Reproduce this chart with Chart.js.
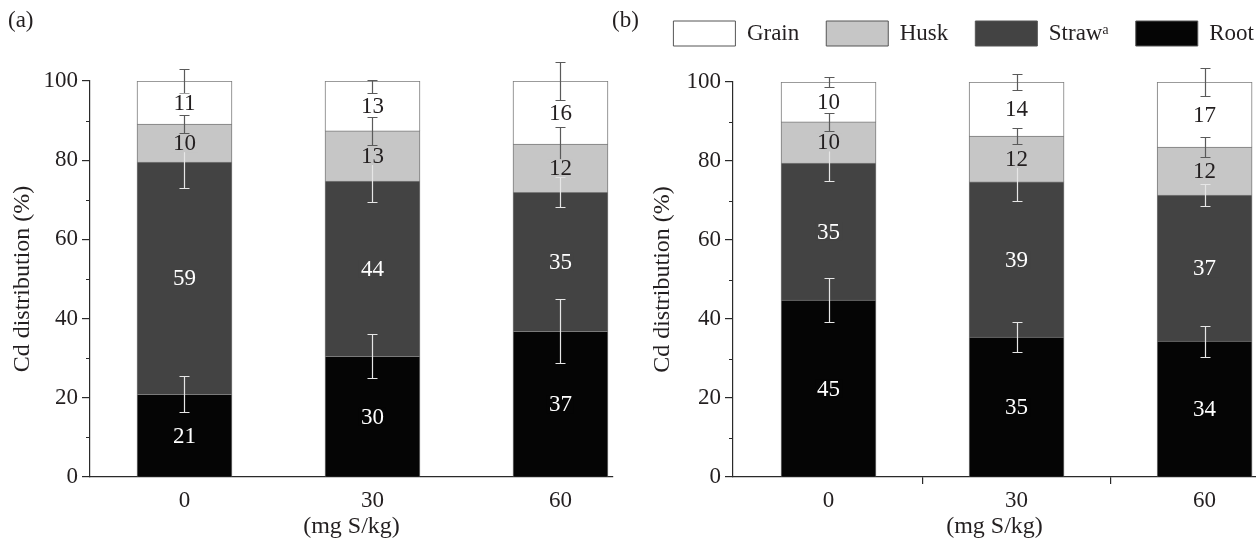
<!DOCTYPE html>
<html><head><meta charset="utf-8">
<script src="https://cdn.jsdelivr.net/npm/chart.js@4.4.1/dist/chart.umd.min.js"></script>
<style>
html,body{margin:0;padding:0;background:#fff;width:1256px;height:543px;overflow:hidden;position:relative}
canvas{position:absolute;top:0}
#ca{left:0}
#cb{left:600px}
</style></head><body>
<canvas id="ca" width="640" height="543"></canvas>
<canvas id="cb" width="656" height="543"></canvas>
<script>
// ---------- data ----------
const doses = [0, 30, 60];                 // mg S/kg (x categories)
const xTickLabels = ['0', '30', '60'];
const yTickValues = [0, 20, 40, 60, 80, 100];
const yMinorTicks = [10, 30, 50, 70, 90];
const seriesNames = ['Root', 'Straw\u1D43', 'Husk', 'Grain'];   // bottom -> top

// Panel (a)
const aRoot  = [20.9, 30.5, 36.8];
const aStraw = [58.6, 44.2, 35.1];
const aHusk  = [9.6, 12.7, 12.2];
const aGrain = [10.9, 12.6, 15.9];
const aRootLbl = [21, 30, 37];
const aStrawLbl = [59, 44, 35];
const aHuskLbl = [10, 13, 12];
const aGrainLbl = [11, 13, 16];
const aRootErr = [4.5, 5.5, 8.1];
const aStrawErr = [6.6, 5.3, 3.8];
const aHuskErr = [2.3, 3.5, 4.3];
const aGrainErr = [3.0, 3.0, 4.8];
const aGrainErrUp = [3.0, 0.3, 4.8];

// Panel (b)
const bRoot  = [44.8, 35.4, 34.4];
const bStraw = [34.7, 39.3, 37.0];
const bHusk  = [10.4, 11.6, 12.1];
const bGrain = [10.1, 13.7, 16.5];
const bRootLbl = [45, 35, 34];
const bStrawLbl = [35, 39, 37];
const bHuskLbl = [10, 12, 12];
const bGrainLbl = [10, 14, 17];
const bRootErr = [5.6, 3.8, 3.9];
const bStrawErr = [4.6, 4.8, 2.7];
const bHuskErr = [2.2, 2.0, 2.6];
const bGrainErr = [1.2, 2.0, 3.6];

// ---------- styles ----------
const FONT = "'Liberation Serif', 'Times New Roman', serif";
const TXT = '#231f20';
const AX = '#2a2a2a';
const fills = ['#050505', '#434343', '#c6c6c6', '#ffffff'];
const textColors = ['#ffffff', '#ffffff', TXT, TXT];
const errColors = ['#e6e6e6', '#e6e6e6', '#5a5a5a', '#5a5a5a'];

function makeDatasets(vals, lbls, errLo, errHi) {
  return vals.map((v, i) => ({
    label: seriesNames[i],
    data: doses.map((d, j) => ({x: d, y: v[j]})),
    backgroundColor: fills[i],
    borderColor: '#7a7a7a',
    borderWidth: {top: 1, left: 1, right: 1, bottom: 0},
    barThickness: 95,
    valueLabels: lbls[i],
    errLo: errLo[i],
    errHi: errHi[i],
    errColor: errColors[i],
    textColor: textColors[i]
  }));
}

const decor = {
  id: 'decor',
  afterDatasetsDraw(chart) {
    const ctx = chart.ctx, ys = chart.scales.y;
    const cum = doses.map(() => 0);
    const segs = [];
    chart.data.datasets.forEach((ds, i) => {
      const meta = chart.getDatasetMeta(i);
      ds.data.forEach((p, j) => {
        const base = cum[j];
        cum[j] += p.y;
        segs.push({ds, j, x: meta.data[j].x, base, top: cum[j]});
      });
    });
    ctx.save();
    segs.forEach(s => {
      const x = Math.round(s.x) + 0.5;
      const y1 = Math.round(ys.getPixelForValue(s.top + s.ds.errHi[s.j])) + 0.5;
      const y2 = Math.round(ys.getPixelForValue(s.top - s.ds.errLo[s.j])) + 0.5;
      ctx.strokeStyle = s.ds.errColor;
      ctx.lineWidth = 1.2;
      ctx.beginPath();
      ctx.moveTo(x, y1); ctx.lineTo(x, y2);
      ctx.moveTo(x - 5, y1); ctx.lineTo(x + 5, y1);
      ctx.moveTo(x - 5, y2); ctx.lineTo(x + 5, y2);
      ctx.stroke();
    });
    ctx.font = '23px ' + FONT;
    ctx.textAlign = 'center';
    ctx.textBaseline = 'middle';
    segs.forEach(s => {
      const y = (ys.getPixelForValue(s.base) + ys.getPixelForValue(s.top)) / 2;
      const t = String(s.ds.valueLabels[s.j]);
      const w = ctx.measureText(t).width;
      ctx.fillStyle = s.ds.backgroundColor;
      ctx.fillRect(s.x - w / 2 - 2, y - 9, w + 4, 18);
      ctx.fillStyle = s.ds.textColor;
      ctx.fillText(t, s.x, y + 1);
    });
    ctx.restore();
  },
  afterDraw(chart, args, opts) {
    const ctx = chart.ctx, ys = chart.scales.y, x0 = Math.round(chart.chartArea.left);
    ctx.save();
    ctx.strokeStyle = AX;
    ctx.lineWidth = 1;
    yMinorTicks.forEach(v => {
      const y = Math.round(ys.getPixelForValue(v)) + 0.5;
      ctx.beginPath(); ctx.moveTo(x0 - 4, y); ctx.lineTo(x0, y); ctx.stroke();
    });
    ctx.font = '23px ' + FONT;
    ctx.fillStyle = TXT;
    ctx.textAlign = 'left';
    ctx.textBaseline = 'middle';
    ctx.fillText(opts.letter, opts.letterX, 21);
    ctx.restore();
  }
};

const legendPlace = {
  id: 'legendPlace',
  afterLayout(chart, args, opts) {
    const lg = chart.legend;
    if (!lg || !opts.enabled) return;
    lg.top = opts.top;
    lg.right = opts.right;
  }
};

function makeScales(xMin, xMax, xTickVals, tickMarkVals, yWidth, yTitlePad) {
  const f = {family: FONT, size: 23};
  const ft = {family: FONT, size: 24};
  return {
    x: {
      type: 'linear', stacked: true, min: xMin, max: xMax, offset: false,
      afterBuildTicks: s => { s.ticks = xTickVals.map(v => ({value: v})); },
      afterFit: s => { s.height = 66; },
      ticks: {font: f, color: TXT, padding: 3, maxRotation: 0, autoSkip: false,
        callback: v => { const i = doses.indexOf(v); return i >= 0 ? xTickLabels[i] : ''; }},
      grid: {offset: false, drawOnChartArea: false, drawTicks: true, tickLength: 7, lineWidth: 1.2,
        color: c => (c.tick && tickMarkVals.includes(c.tick.value)) ? AX : 'rgba(0,0,0,0)'},
      border: {display: true, color: AX, width: 1.2},
      title: {display: true, text: '(mg S/kg)', font: ft, color: TXT, padding: {top: 0, bottom: 2}}
    },
    y: {
      stacked: true, min: 0, max: 100,
      afterBuildTicks: s => { s.ticks = yTickValues.map(v => ({value: v})); },
      afterFit: s => { s.width = yWidth; },
      ticks: {font: f, color: TXT, padding: 4},
      grid: {drawOnChartArea: false, tickLength: 8, color: AX, lineWidth: 1.2},
      border: {display: true, color: AX, width: 1.2},
      title: {display: true, text: 'Cd distribution (%)', font: ft, color: TXT, padding: {top: yTitlePad, bottom: 0}}
    }
  };
}

Chart.register(decor, legendPlace);

new Chart(document.getElementById('ca'), {
  type: 'bar',
  data: {datasets: makeDatasets([aRoot, aStraw, aHusk, aGrain],
    [aRootLbl, aStrawLbl, aHuskLbl, aGrainLbl],
    [aRootErr, aStrawErr, aHuskErr, aGrainErr],
    [aRootErr, aStrawErr, aHuskErr, aGrainErrUp])},
  options: {
    responsive: false, devicePixelRatio: 1, animation: false, events: [],
    layout: {padding: {left: 0, right: 27, top: 81, bottom: 0}},
    scales: makeScales(-15.08, 68.38, doses, [], 90, 8),
    plugins: {
      legend: {display: false}, tooltip: {enabled: false},
      decor: {letter: '(a)', letterX: 8},
      legendPlace: {enabled: false}
    }
  }
});

new Chart(document.getElementById('cb'), {
  type: 'bar',
  data: {datasets: makeDatasets([bRoot, bStraw, bHusk, bGrain],
    [bRootLbl, bStrawLbl, bHuskLbl, bGrainLbl],
    [bRootErr, bStrawErr, bHuskErr, bGrainErr],
    [bRootErr, bStrawErr, bHuskErr, bGrainErr])},
  options: {
    responsive: false, devicePixelRatio: 1, animation: false, events: [],
    layout: {padding: {left: 0, right: 0, top: 20, bottom: 0}},
    scales: makeScales(-15.24, 68.2, [0, 15, 30, 45, 60], [15, 45], 133, 48),
    plugins: {
      legend: {
        display: true, position: 'top', align: 'end', reverse: true,
        labels: {
          font: {family: FONT, size: 23}, color: TXT,
          boxWidth: 62, boxHeight: 25, padding: 27,
          generateLabels: chart => Chart.defaults.plugins.legend.labels.generateLabels(chart)
            .map(it => Object.assign(it, {lineWidth: 1, strokeStyle: '#555'}))
        }
      },
      tooltip: {enabled: false},
      decor: {letter: '(b)', letterX: 12},
      legendPlace: {enabled: true, top: -6, right: 681}
    }
  }
});
</script>
</body></html>
